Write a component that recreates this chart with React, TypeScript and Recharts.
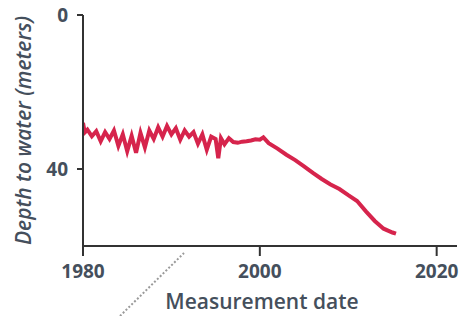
import { Label, Line, LineChart, XAxis, YAxis } from "recharts";

const years = [
  1980.0, 1980.2, 1980.5, 1981.0, 1981.5, 1982.0, 1982.5, 1983.0, 1983.5, 1984.0,
  1984.5, 1985.0, 1985.5, 1986.0, 1986.5, 1987.0, 1987.5, 1988.0, 1988.5, 1989.0,
  1989.5, 1990.0, 1990.5, 1991.0, 1991.5, 1992.0, 1992.5, 1993.0, 1993.5, 1994.0,
  1994.5, 1995.0, 1995.3, 1995.6, 1996.0, 1996.5, 1997.0, 1997.5, 1998.0, 1998.5,
  1999.0, 1999.5, 2000.0, 2000.4, 2001.0, 2002.0, 2003.0, 2004.0, 2005.0, 2006.0,
  2007.0, 2008.0, 2009.0, 2010.0, 2011.0, 2012.0, 2013.0, 2014.0, 2015.0, 2015.4,
];

const depths = [
  28.0, 30.5, 29.8, 31.5, 30.2, 32.8, 30.4, 32.2, 30.0, 34.0,
  31.0, 35.4, 31.4, 35.8, 30.6, 34.4, 30.0, 32.2, 29.2, 31.6,
  28.8, 31.0, 29.4, 32.4, 30.0, 31.6, 30.4, 33.4, 31.0, 35.0,
  31.6, 32.2, 37.2, 32.0, 33.6, 32.0, 33.0, 33.2, 32.9, 32.8,
  32.6, 32.3, 32.4, 31.8, 33.3, 34.7, 36.3, 37.7, 39.3, 41.0,
  42.6, 44.0, 45.2, 46.8, 48.3, 51.0, 53.5, 55.5, 56.5, 56.8,
];

const xTicks = [1980, 2000, 2020];
const yTicks = [0, 40];

const data = years.map((year, i) => ({ year, depth: depths[i] }));

const ink = "#454f5c";
const font = "'Open Sans', sans-serif";

function YTitle({ viewBox }: any) {
  const cx = viewBox.x + 23;
  const cy = viewBox.y + viewBox.height / 2;
  return (
    <text
      x={cx}
      y={cy}
      transform={`rotate(-90 ${cx} ${cy})`}
      textAnchor="middle"
      dominantBaseline="central"
      fill={ink}
      fontFamily={font}
      fontStyle="italic"
      fontWeight={600}
      fontSize={21}
    >
      Depth to water (meters)
    </text>
  );
}

function XTitle({ viewBox }: any) {
  return (
    <text
      x={viewBox.x + viewBox.width / 2 - 8}
      y={viewBox.y + 63}
      textAnchor="middle"
      fill={ink}
      fontFamily={font}
      fontWeight={600}
      fontSize={21}
    >
      Measurement date
    </text>
  );
}

export default function App() {
  const tickStyle = { fill: ink, fontSize: 19, fontWeight: 700, fontFamily: font };
  return (
    <div style={{ position: "absolute", left: 0, top: 0, width: 463, height: 316, background: "#fff" }}>
      <LineChart width={463} height={316} data={data} margin={{ top: 15, right: 6, left: 0, bottom: 0 }}>
        <XAxis
          dataKey="year"
          type="number"
          domain={[1980, 2022.3]}
          ticks={xTicks}
          allowDataOverflow
          height={70}
          axisLine={{ stroke: "#333", strokeWidth: 2 }}
          tickLine={{ stroke: "#333", strokeWidth: 2 }}
          tickSize={10}
          tick={tickStyle}
          tickMargin={9}
        >
          <Label content={<XTitle />} />
        </XAxis>
        <YAxis
          type="number"
          domain={[0, 60]}
          reversed
          ticks={yTicks}
          width={83}
          axisLine={{ stroke: "#333", strokeWidth: 2 }}
          tickLine={{ stroke: "#333", strokeWidth: 2 }}
          tickSize={6}
          tick={tickStyle}
          tickMargin={9}
        >
          <Label content={<YTitle />} />
        </YAxis>
        <Line
          type="linear"
          dataKey="depth"
          stroke="#d6244c"
          strokeWidth={4}
          dot={false}
          isAnimationActive={false}
        />
      </LineChart>
      <svg
        width={463}
        height={316}
        style={{ position: "absolute", left: 0, top: 0, pointerEvents: "none" }}
      >
        <line x1={120} y1={316} x2={184} y2={253} stroke="#9a9a9a" strokeWidth={2} strokeDasharray="2 2" />
      </svg>
    </div>
  );
}
